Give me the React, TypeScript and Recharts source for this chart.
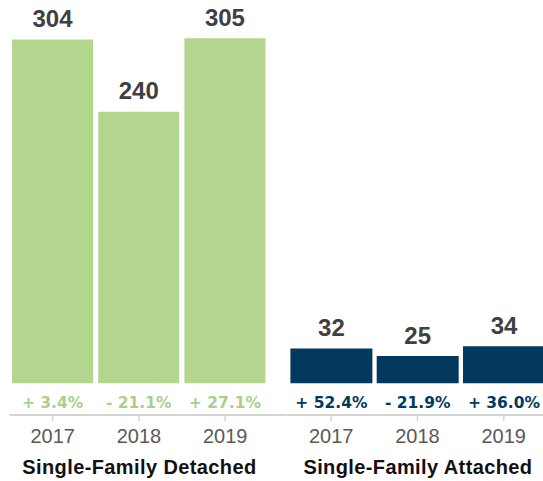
import React from 'react';
import { BarChart, Bar, XAxis, YAxis, LabelList } from 'recharts';

const years = ['2017', '2018', '2019'];
const detachedValues = [304, 240, 305];
const attachedValues = [32, 25, 34];
const detachedChange = ['+ 3.4%', '- 21.1%', '+ 27.1%'];
const attachedChange = ['+ 52.4%', '- 21.9%', '+ 36.0%'];
const groupTitles = ['Single-Family Detached', 'Single-Family Attached'];

const GREEN = '#b3d68e';
const NAVY = '#03385f';
const FONT = '"Liberation Sans", Arial, Helvetica, sans-serif';
const PCT_FONT = '"DejaVu Sans", "Liberation Sans", Arial, sans-serif';

const detachedData = years.map((y, i) => ({ year: y, value: detachedValues[i], change: detachedChange[i] }));
const attachedData = years.map((y, i) => ({ year: y, value: attachedValues[i], change: attachedChange[i] }));

const YearTick = (props: any) => {
  const { x, y, payload, index, title } = props;
  return (
    <g>
      <text x={x} y={y + 20.5} textAnchor="middle" fill="#595959" fontSize={20} fontFamily={FONT}>
        {payload.value}
      </text>
      {index === 1 ? (
        <text
          x={x + 0.5}
          y={y + 51}
          textAnchor="middle"
          fill="#111111"
          fontSize={20}
          fontWeight="bold"
          fontFamily={FONT}
          style={{ letterSpacing: '0.4px' }}
        >
          {title}
        </text>
      ) : null}
    </g>
  );
};

const ValueLabel = (props: any) => {
  const { x, y, width, value } = props;
  return (
    <text x={x + width / 2} y={y - 12.5} textAnchor="middle" fill="#404040" fontSize={24} fontWeight="bold" fontFamily={FONT}>
      {value}
    </text>
  );
};

const makeChangeLabel = (color: string) => (props: any) => {
  const { x, y, width, height, value } = props;
  return (
    <text
      x={x + width / 2}
      y={y + height + 25}
      textAnchor="middle"
      fill={color}
      fontSize={15.5}
      fontWeight="bold"
      fontFamily={PCT_FONT}
    >
      {value}
    </text>
  );
};

type GroupProps = {
  data: any[];
  domain: [number, number];
  color: string;
  labelColor: string;
  title: string;
  width: number;
  marginLeft: number;
  padRight: number;
};

const Group = ({ data, domain, color, labelColor, title, width, marginLeft, padRight }: GroupProps) => (
  <BarChart
    width={width}
    height={481}
    data={data}
    margin={{ top: 8, right: 0, bottom: 0, left: marginLeft }}
    barCategoryGap={2.4}
  >
    <XAxis
      dataKey="year"
      padding={{ left: 0, right: padRight }}
      axisLine={{ stroke: '#d4d4d4', strokeWidth: 2 }}
      tickLine={{ stroke: '#d4d4d4', strokeWidth: 1.5 }}
      tickSize={6}
      tickMargin={2}
      height={66}
      interval={0}
      tick={<YearTick title={title} />}
    />
    <YAxis hide type="number" domain={domain} allowDataOverflow scale="linear" />
    <Bar dataKey="value" fill={color} isAnimationActive={false}>
      <LabelList dataKey="value" content={ValueLabel} />
      <LabelList dataKey="change" content={makeChangeLabel(labelColor)} />
    </Bar>
  </BarChart>
);

export default function App() {
  return (
    <div
      style={{
        position: 'fixed',
        left: 0,
        top: 0,
        width: 543,
        height: 481,
        overflow: 'hidden',
        background: '#ffffff',
      }}
    >
      <div style={{ position: 'absolute', left: 0, top: 0 }}>
        <Group
          data={detachedData}
          domain={[-28.0, 331.8]}
          color={GREEN}
          labelColor="#a9d08a"
          title={groupTitles[0]}
          width={287.65}
          marginLeft={9.65}
          padRight={19.4}
        />
      </div>
      <div style={{ position: 'absolute', left: 287.65, top: 0 }}>
        <Group
          data={attachedData}
          domain={[-29.1, 344.3]}
          color={NAVY}
          labelColor={NAVY}
          title={groupTitles[1]}
          width={258.9}
          marginLeft={0}
          padRight={0}
        />
      </div>
    </div>
  );
}
